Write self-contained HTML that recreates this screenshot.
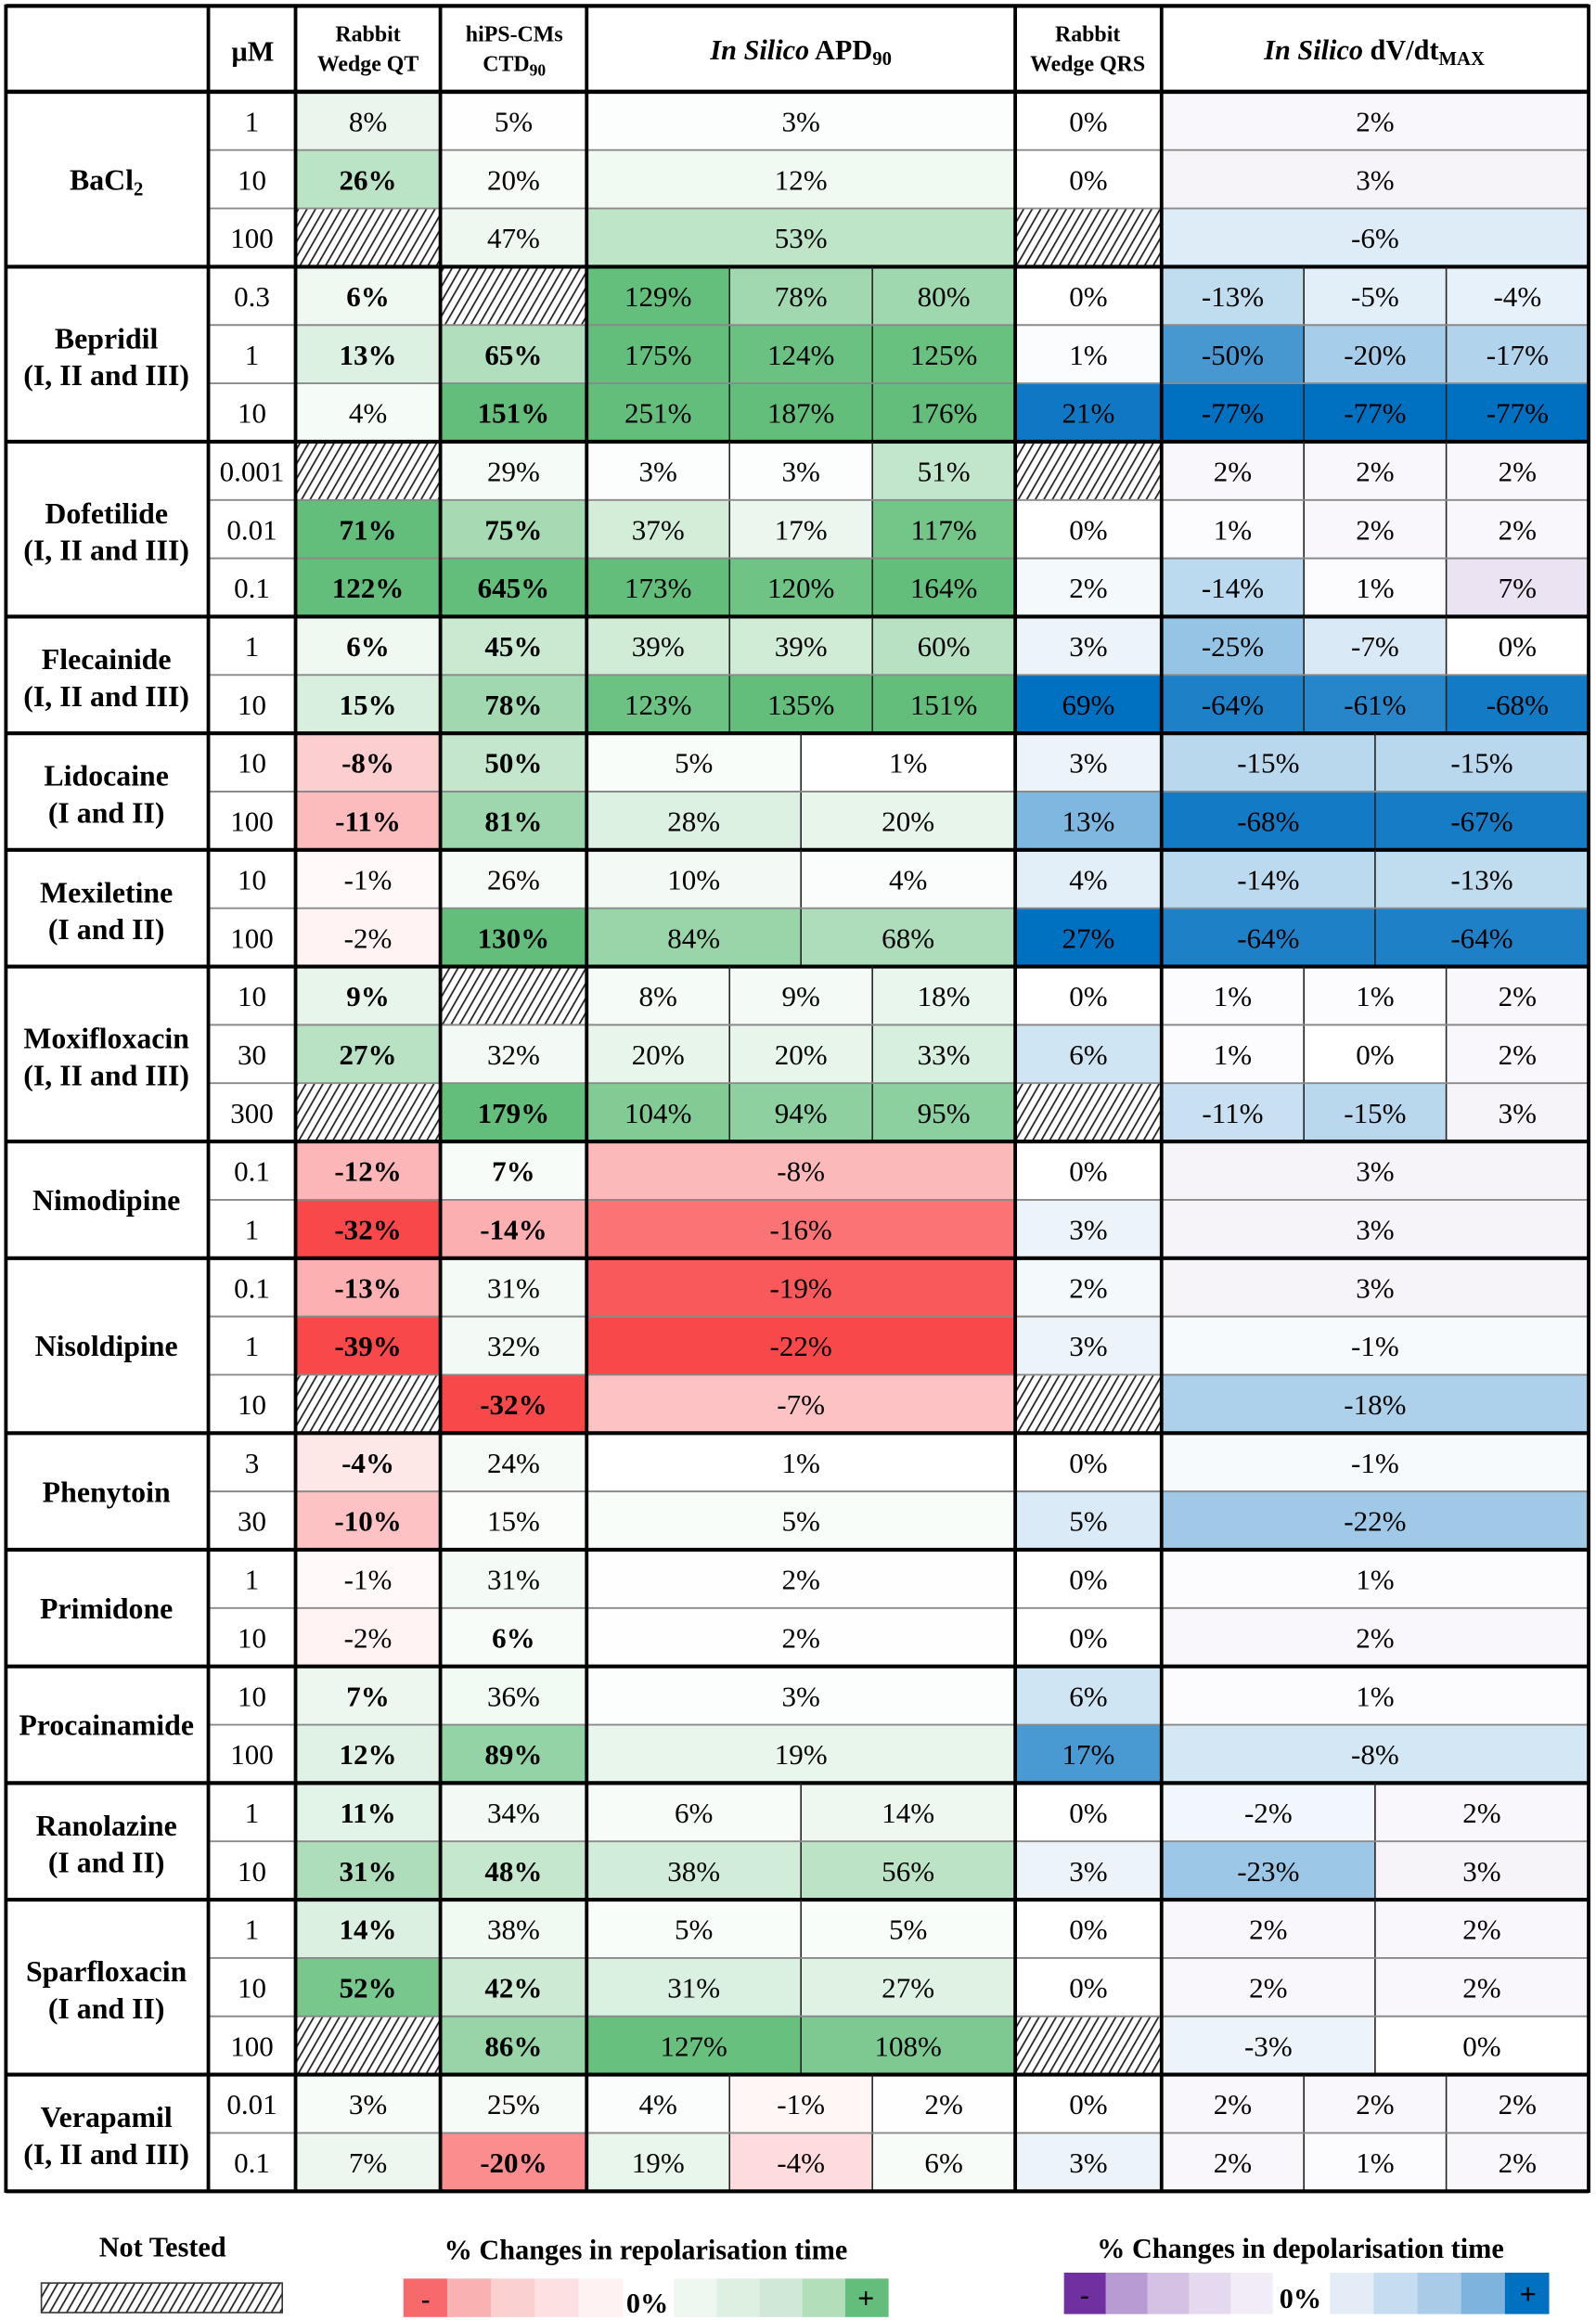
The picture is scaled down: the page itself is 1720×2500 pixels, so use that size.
<!DOCTYPE html>
<html><head><meta charset="utf-8"><style>
html,body{margin:0;padding:0;background:#fff}
svg{display:block}
text{font-family:"Liberation Serif","Times New Roman",serif;fill:#000}
</style></head><body>
<svg id="chart" width="1720" height="2500" viewBox="0 0 1080 1568" preserveAspectRatio="none" font-family="Liberation Serif, Times New Roman, serif" xmlns="http://www.w3.org/2000/svg">
<defs>
<pattern id="hatch" patternUnits="userSpaceOnUse" width="5" height="5" patternTransform="rotate(30)">
<rect width="5" height="5" fill="#fff"/><line x1="0" y1="0" x2="0" y2="5" stroke="#222" stroke-width="2.2"/>
</pattern>
</defs>
<g id="cells"></g>
<g id="grid"></g>
<g id="texts"></g>
<g id="legend"></g>
</svg>
<script>
const drugNames = ["BaCl","Bepridil","Dofetilide","Flecainide","Lidocaine","Mexiletine","Moxifloxacin","Nimodipine","Nisoldipine","Phenytoin","Primidone","Procainamide","Ranolazine","Sparfloxacin","Verapamil"];
const drugClasses = ["","(I, II and III)","(I, II and III)","(I, II and III)","(I and II)","(I and II)","(I, II and III)","","","","","","(I and II)","(I and II)","(I, II and III)"];
const drugRowCounts = [3,3,3,2,2,2,3,2,3,2,2,2,2,3,2];
const concs = ["1","10","100","0.3","1","10","0.001","0.01","0.1","1","10","10","100","10","100","10","30","300","0.1","1","0.1","1","10","3","30","1","10","10","100","1","10","1","10","100","0.01","0.1"];
const qtVals = [8,26,null,6,13,4,null,71,122,6,15,-8,-11,-1,-2,9,27,null,-12,-32,-13,-39,null,-4,-10,-1,-2,7,12,11,31,14,52,null,3,7];
const qtBold = [0,1,0,1,1,0,0,1,1,1,1,1,1,0,0,1,1,0,1,1,1,1,0,1,1,0,0,1,1,1,1,1,1,0,0,0];
const hipsVals = [5,20,47,null,65,151,29,75,645,45,78,50,81,26,130,null,32,179,7,-14,31,32,-32,24,15,31,6,36,89,34,48,38,42,86,25,-20];
const hipsBold = [0,0,0,0,1,1,0,1,1,1,1,1,1,0,1,0,0,1,1,1,0,0,1,0,0,0,1,0,1,0,1,0,1,1,0,1];
const apdVals = [[3],[12],[53],[129,78,80],[175,124,125],[251,187,176],[3,3,51],[37,17,117],[173,120,164],[39,39,60],[123,135,151],[5,1],[28,20],[10,4],[84,68],[8,9,18],[20,20,33],[104,94,95],[-8],[-16],[-19],[-22],[-7],[1],[5],[2],[2],[3],[19],[6,14],[38,56],[5,5],[31,27],[127,108],[4,-1,2],[19,-4,6]];
const qrsVals = [0,0,null,0,1,21,null,0,2,3,69,3,13,4,27,0,6,null,0,3,2,3,null,0,5,0,0,6,17,0,3,0,0,null,0,3];
const dvVals = [[2],[3],[-6],[-13,-5,-4],[-50,-20,-17],[-77,-77,-77],[2,2,2],[1,2,2],[-14,1,7],[-25,-7,0],[-64,-61,-68],[-15,-15],[-68,-67],[-14,-13],[-64,-64],[1,1,2],[1,0,2],[-11,-15,3],[3],[3],[3],[-1],[-18],[-1],[-22],[1],[2],[1],[-8],[-2,2],[-23,3],[2,2],[2,2],[-3,0],[2,2,2],[2,1,2]];

const NS="http://www.w3.org/2000/svg";
const colX=[4,141,200,298,397,687,786,1075];
const top0=62, rowH=(1481-62)/36;
const G=[99,190,123],R=[248,72,74],B=[0,112,192],P=[112,48,160];
function mix(c,t){t=Math.max(0,Math.min(1,t));return "rgb("+c.map(v=>Math.round(255+(v-255)*t)).join(",")+")";}
function repol(v,mp,mn,k){k=k===undefined?1:k;if(v>0)return mix(G,k*v/mp);if(v<0)return mix(R,k*(-v/mn));return "#fff";}
function qrsCol(v){return mix(B,Math.pow(v/22,1.3));}
function dvCol(v){if(v<0)return mix(B,Math.pow(-v/75,0.8));if(v>0)return mix(P,v/50);return "#fff";}
function mk(tag,parent,attrs){const e=document.createElementNS(NS,tag);for(const k in attrs)e.setAttribute(k,attrs[k]);parent.appendChild(e);return e;}
const cells=document.getElementById('cells'),grid=document.getElementById('grid'),texts=document.getElementById('texts'),legend=document.getElementById('legend');
function cell(x1,x2,y,fill,val,bold,name){
  const r=mk('rect',cells,{x:x1,y:y,width:x2-x1,height:rowH,fill:val===null?'url(#hatch)':fill});
  
  
  if(val!==null){
    const t=mk('text',texts,{x:(x1+x2)/2,y:y+rowH/2+7,'text-anchor':'middle','font-size':19.5,'font-weight':bold?'bold':'normal'});
    t.textContent=(typeof val==='number'?val+'%':val);
    
    
  }
}
function line(x1,y1,x2,y2,w,c){mk('line',grid,{x1,y1,x2,y2,stroke:c,'stroke-width':w});}
mk('rect',cells,{x:4,y:4,width:1071,height:58,fill:'#fff'});
function htext(x,y,size,html,name){const t=mk('text',texts,{x,y,'text-anchor':'middle','font-size':size,'font-weight':'bold'});t.innerHTML=html;}
htext(171,41,19,'µM','header-concentration');
htext(249,28,15,'Rabbit','header-rabbit-qt');htext(249,48,15,'Wedge QT','header-rabbit-qt-2');
htext(348,28,15,'hiPS-CMs','header-hips');htext(348,48,15,'CTD<tspan font-size="11" dy="3">90</tspan>','header-hips-2');
htext(542,40,19,'<tspan font-style="italic">In Silico</tspan> APD<tspan font-size="13" dy="4">90</tspan>','header-apd90');
htext(736,28,15,'Rabbit','header-rabbit-qrs');htext(736,48,15,'Wedge QRS','header-rabbit-qrs-2');
htext(930,40,19,'<tspan font-style="italic">In Silico</tspan> dV/dt<tspan font-size="13" dy="4">MAX</tspan>','header-dvdt');
let ri=0;
drugRowCounts.forEach((n,di)=>{
  const gy=top0+ri*rowH;
  mk('rect',cells,{x:4,y:gy,width:137,height:n*rowH,fill:'#fff'});
  const cy=gy+n*rowH/2;
  const dn=mk('text',texts,{x:72,y:drugClasses[di]?cy-4:cy+7,'text-anchor':'middle','font-size':20,'font-weight':'bold'});
  dn.innerHTML=di===0?'BaCl<tspan font-size="13" dy="4">2</tspan>':drugNames[di];
  
  
  if(drugClasses[di]){const dc=mk('text',texts,{x:72,y:cy+21,'text-anchor':'middle','font-size':20,'font-weight':'bold'});dc.textContent=drugClasses[di];
    
    }
  for(let k=0;k<n;k++){
    const i=ri+k, y=top0+i*rowH;
    cell(141,200,y,'#fff',concs[i],false,'concentration');
    cell(200,298,y,qtVals[i]===null?'':repol(qtVals[i],60,30),qtVals[i],qtBold[i],'rabbit-qt');
    cell(298,397,y,hipsVals[i]===null?'':repol(hipsVals[i],130,32,hipsBold[i]?1:0.3),hipsVals[i],hipsBold[i],'hips-ctd90');
    const a=apdVals[i],aw=(687-397)/a.length;
    a.forEach((v,j)=>cell(397+j*aw,397+(j+1)*aw,y,repol(v,130,21),v,false,'apd90'));
    cell(687,786,y,qrsVals[i]===null?'':qrsCol(qrsVals[i]),qrsVals[i],false,'rabbit-qrs');
    const d=dvVals[i],dw=(1075-786)/d.length;
    d.forEach((v,j)=>cell(786+j*dw,786+(j+1)*dw,y,dvCol(v),v,false,'dvdt'));
    for(let j=1;j<a.length;j++)line(397+j*aw,y,397+j*aw,y+rowH,1,'#222');
    for(let j=1;j<d.length;j++)line(786+j*dw,y,786+j*dw,y+rowH,1,'#222');
    if(k>0)line(141,y,1075,y,1.2,'#8a8a8a');
  }
  ri+=n;
  line(4,top0+ri*rowH,1075,top0+ri*rowH,2.6,'#000');
});
line(4,top0,1075,top0,2.8,'#000');
line(4,4,1075,4,2.6,'#000');
colX.forEach(x=>line(x,3,x,1482,2.4,'#000'));
function ltext(x,y,s,txt,name){const t=mk('text',legend,{x,y,'text-anchor':'middle','font-size':s,'font-weight':'bold'});t.textContent=txt;}
ltext(110,1525,19,'Not Tested','legend-not-tested-label');
const hb=mk('rect',legend,{x:28,y:1543,width:163,height:20,fill:'url(#hatch)',stroke:'#333','stroke-width':1});


ltext(437,1527,19,'% Changes in repolarisation time','legend-repol-title');
ltext(880,1526,19,'% Changes in depolarisation time','legend-depol-title');
const redSw=['#f8696b','#f9b1b2','#fbd0d1','#fde0e1','#fef2f2'],grnSw=['#eef7f0','#def0e2','#cfe9d6','#b2deba','#63be7b'];
const purSw=['#7030a0','#b89bd2','#d4c1e4','#e4d9ee','#f1ecf6'],bluSw=['#e3ecf7','#c6dcf0','#a9cbe8','#7eb3de','#0070c0'];
function swatches(arr,x1,x2,y,h,name){const w=(x2-x1)/arr.length;arr.forEach((c,i)=>{const r=mk('rect',legend,{x:x1+i*w,y,width:w+0.3,height:h,fill:c});});}
swatches(redSw,273,421,1540,26,'legend-red-swatch');swatches(grnSw,456,601,1540,26,'legend-green-swatch');
swatches(purSw,720,861,1536,28,'legend-purple-swatch');swatches(bluSw,900,1048,1536,28,'legend-blue-swatch');
ltext(438,1563,19,'0%','legend-repol-zero');ltext(880,1560,19,'0%','legend-depol-zero');
ltext(288,1560,18,'-','legend-repol-minus');ltext(586,1560,20,'+','legend-repol-plus');
ltext(734,1557,18,'-','legend-depol-minus');ltext(1034,1557,20,'+','legend-depol-plus');
</script>
</body></html>
